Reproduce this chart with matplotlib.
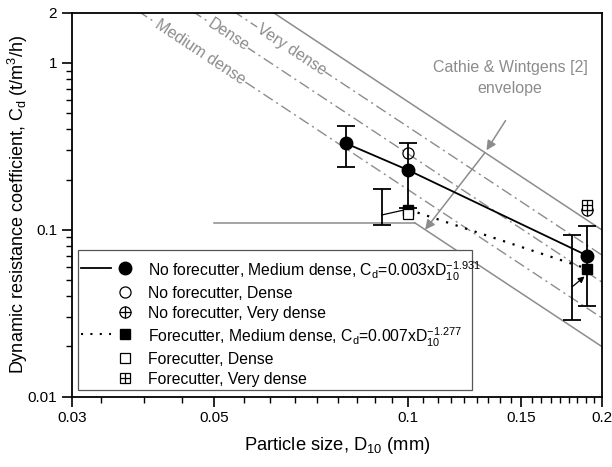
import numpy as np
import matplotlib
matplotlib.use("Agg")
import matplotlib.pyplot as plt
from matplotlib.lines import Line2D
from matplotlib.patches import Rectangle

plt.rcParams['font.family'] = ['Liberation Sans', 'DejaVu Sans']
plt.rcParams['mathtext.fontset'] = 'custom'
plt.rcParams['mathtext.rm'] = 'Liberation Sans'
plt.rcParams['mathtext.it'] = 'Liberation Sans'
plt.rcParams['font.size'] = 11

# measured resistance coefficients
d10_nf = [0.08, 0.1, 0.19]
cd_nf_medium = [0.33, 0.228, 0.07]
cd_nf_lo = [0.239, 0.135, 0.035]
cd_nf_hi = [0.419, 0.333, 0.105]

d10_fc = [0.1, 0.19]
cd_fc_medium = [0.132, 0.0584]
# forecutter error bars are drawn beside the points
d10_fc_bar = [0.091, 0.180]
cd_fc_lo = [0.107, 0.029]
cd_fc_hi = [0.176, 0.093]

d10_nf_dense, cd_nf_dense = [0.1], [0.287]
d10_nf_vdense, cd_nf_vdense = [0.19], [0.132]
d10_fc_dense, cd_fc_dense = [0.1], [0.124]
d10_fc_vdense, cd_fc_vdense = [0.19], [0.14]

# Cathie & Wintgens lines: Cd = c * (D/0.2)^slope
cw_slope = -2.55
cw_upper = 0.1
cw_lower = 0.02
cw_floor = 0.11
cw_floor_start = 0.05
density_names = ['Medium dense', 'Dense', 'Very dense']
density_coef = [0.0297, 0.0487, 0.0707]
density_label_x = [0.0475, 0.0525, 0.0658]

# forecutter power-law fit
fc_fit_a, fc_fit_b = 0.007, -1.277

GRAY = '#8c8c8c'

fig = plt.figure(figsize=(6.12, 4.67), dpi=100)
ax = fig.add_axes([0.1172, 0.1505, 0.866, 0.8223])
ax.set_xscale('log')
ax.set_yscale('log')
ax.set_xlim(0.03, 0.2)
ax.set_ylim(0.01, 2)


def cw(c, d):
    return c * (np.asarray(d) / 0.2) ** cw_slope


dd = np.geomspace(0.03, 0.2, 200)
ax.plot(dd, cw(cw_upper, dd), color=GRAY, lw=1.1, zorder=1)
d_knee = 0.2 * (cw_floor / cw_lower) ** (1 / cw_slope)
dl = np.geomspace(d_knee, 0.2, 100)
ax.plot([cw_floor_start, d_knee], [cw_floor, cw_floor], color=GRAY, lw=1.1, zorder=1)
ax.plot(dl, cw(cw_lower, dl), color=GRAY, lw=1.1, zorder=1)

for name, c, xl in zip(density_names, density_coef, density_label_x):
    ax.plot(dd, cw(c, dd), color=GRAY, lw=1.0, ls=(0, (8, 3, 1.5, 3)), zorder=1)
    p1 = ax.transData.transform((xl * 0.95, cw(c, xl * 0.95)))
    p2 = ax.transData.transform((xl * 1.05, cw(c, xl * 1.05)))
    ang = np.degrees(np.arctan2(p2[1] - p1[1], p2[0] - p1[0]))
    ax.text(xl, cw(c, xl), name, color=GRAY, rotation=ang, rotation_mode='anchor',
            ha='center', va='center', fontsize=11.5, zorder=2,
            bbox=dict(facecolor='white', edgecolor='none', pad=0.6))

# envelope annotation
ax.text(0.144, 0.81, 'Cathie & Wintgens [2]\nenvelope', color=GRAY, ha='center',
        va='center', fontsize=11.5, linespacing=1.5)
x_tip1 = 0.1317
x_tip2 = 0.1063
ax.annotate('', xy=(x_tip1, cw(cw_upper, x_tip1)), xytext=(0.1425, 0.466),
            arrowprops=dict(arrowstyle='-|>', color=GRAY, lw=1.1, mutation_scale=14))
ax.annotate('', xy=(x_tip2, cw(cw_lower, x_tip2)), xytext=(x_tip1, cw(cw_upper, x_tip1)),
            arrowprops=dict(arrowstyle='-|>', color=GRAY, lw=1.1, mutation_scale=14,
                            shrinkA=0, shrinkB=0))

# no forecutter series
ax.plot(d10_nf, cd_nf_medium, color='black', lw=1.3, zorder=3)
nf_err = [np.array(cd_nf_medium) - np.array(cd_nf_lo), np.array(cd_nf_hi) - np.array(cd_nf_medium)]
ax.errorbar(d10_nf, cd_nf_medium, yerr=nf_err, fmt='none', ecolor='black',
            elinewidth=1.3, capsize=6.5, capthick=1.3, zorder=3)

# forecutter fit line
dfit = np.geomspace(d10_fc[0], d10_fc[-1], 50)
ax.plot(dfit, fc_fit_a * dfit ** fc_fit_b, color='black', lw=1.6,
        ls=(0, (1, 3.5)), zorder=3)
fc_mid = np.sqrt(np.array(cd_fc_lo) * np.array(cd_fc_hi))
fc_err = [fc_mid - np.array(cd_fc_lo), np.array(cd_fc_hi) - fc_mid]
ax.errorbar(d10_fc_bar, fc_mid, yerr=fc_err, fmt='none', ecolor='black',
            elinewidth=1.3, capsize=6.5, capthick=1.3, zorder=3)
# leaders from the offset error bars to their points
ax.plot([d10_fc_bar[0], d10_fc[0] * 0.99], [0.1227, cd_fc_medium[0]],
        color='black', lw=0.9, zorder=3)
ax.annotate('', xy=(d10_fc[1] * 0.99, cd_fc_medium[1] * 0.9),
            xytext=(d10_fc_bar[1], 0.0456),
            arrowprops=dict(arrowstyle='-|>', color='black', lw=0.9, mutation_scale=9,
                            shrinkA=0, shrinkB=0), zorder=3)

ax.plot(d10_nf, cd_nf_medium, 'o', ms=9, color='black', zorder=5)
ax.plot(d10_fc, cd_fc_medium, 's', ms=7.5, color='black', zorder=5)
ax.plot(d10_nf_dense, cd_nf_dense, 'o', ms=8, mfc='none', mec='black', mew=0.9, zorder=5)
ax.plot(d10_nf_vdense, cd_nf_vdense, 'o', ms=8, mfc='white', mec='black', mew=0.9, zorder=5)
ax.plot(d10_nf_vdense, cd_nf_vdense, '+', ms=8, mec='black', mew=0.9, zorder=5)
ax.plot(d10_fc_dense, cd_fc_dense, 's', ms=7, mfc='white', mec='black', mew=0.9, zorder=6)
ax.plot(d10_fc_vdense, cd_fc_vdense, 's', ms=7, mfc='white', mec='black', mew=0.9, zorder=6)
ax.plot(d10_fc_vdense, cd_fc_vdense, '+', ms=7, mec='black', mew=0.9, zorder=6)

# legend drawn by hand so rows can carry the fit equations
ax.add_patch(Rectangle((0.0119, 0.0174), 0.7434, 0.3646, transform=ax.transAxes,
                       facecolor='white', edgecolor='#555555', lw=0.9, zorder=7))
rows = [
    ('-', 'o', 'full', 'No forecutter, Medium dense, C$_d$=0.003xD$_{10}^{-1.931}$', 0.336),
    (None, 'o', 'none', 'No forecutter, Dense', 0.272),
    (None, 'o+', 'none', 'No forecutter, Very dense', 0.2214),
    (':', 's', 'full', 'Forecutter, Medium dense, C$_d$=0.007xD$_{10}^{-1.277}$', 0.1625),
    (None, 's', 'none', 'Forecutter, Dense', 0.1),
    (None, 's+', 'none', 'Forecutter, Very dense', 0.0495),
]
for ls, mk, fill, label, yy in rows:
    if ls == '-':
        ax.add_line(Line2D([0.017, 0.0745], [yy, yy], transform=ax.transAxes,
                           color='black', lw=1.3, zorder=8))
    elif ls == ':':
        ax.add_line(Line2D([0.017, 0.0745], [yy, yy], transform=ax.transAxes,
                           color='black', lw=1.5, ls=(0, (1, 3.5)), zorder=8))
    base = mk[0]
    ms = 9 if base == 'o' else 7.5
    if fill == 'full':
        ax.plot([0.1006], [yy], base, ms=ms, color='black', transform=ax.transAxes,
                zorder=8, clip_on=False)
    else:
        ax.plot([0.1006], [yy], base, ms=ms - 1, mfc='white', mec='black', mew=0.9,
                transform=ax.transAxes, zorder=8, clip_on=False)
        if mk.endswith('+'):
            ax.plot([0.1006], [yy], '+', ms=ms - 1, mec='black', mew=0.9,
                    transform=ax.transAxes, zorder=8, clip_on=False)
    ax.text(0.1434, yy, label, transform=ax.transAxes, ha='left', va='center_baseline',
            fontsize=11.3, zorder=8)

# axes styling
ax.set_xticks([0.03, 0.05, 0.1, 0.15, 0.2])
ax.set_xticklabels(['0.03', '0.05', '0.1', '0.15', '0.2'])
majors_x = [0.05, 0.1, 0.15, 0.2]
xminor = [0.05 + k * 0.05 / 9 for k in range(-3, 28)]
xminor = [v for v in xminor if 0.03 < v < 0.2 and min(abs(v - m) for m in majors_x) > 1e-6]
ax.set_xticks(xminor, minor=True)
ax.set_yticks([0.01, 0.1, 1, 2])
ax.set_yticklabels(['0.01', '0.1', '1', '2'])
ax.set_yticks([k * 0.01 for k in range(2, 10)] + [k * 0.1 for k in range(2, 10)], minor=True)
ax.yaxis.set_minor_formatter(plt.NullFormatter())
ax.xaxis.set_minor_formatter(plt.NullFormatter())
ax.tick_params(which='major', direction='out', length=7, width=1.2, labelsize=11,
               top=False, right=False)
ax.tick_params(which='minor', direction='out', length=4, width=1.0, top=False, right=False)
for sp in ax.spines.values():
    sp.set_linewidth(1.3)

ax.set_xlabel('Particle size, D$_{10}$ (mm)', fontsize=13.2)
ax.xaxis.set_label_coords(0.5, -0.1)
ax.set_ylabel('Dynamic resistance coefficient, C$_d$ (t/m$^3$/h)', fontsize=13)
ax.yaxis.set_label_coords(-0.079, 0.5)

fig.savefig('out.png', dpi=100)
